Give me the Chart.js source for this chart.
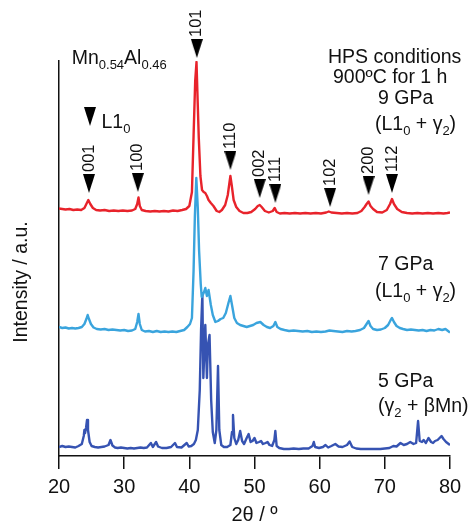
<!DOCTYPE html>
<html>
<head>
<meta charset="utf-8">
<script src="https://cdn.jsdelivr.net/npm/chart.js@4/dist/chart.umd.min.js"></script>
<style>
  html, body { margin: 0; padding: 0; background: #fff; }
  #c { display: block; }
</style>
</head>
<body>
<canvas id="c" width="468" height="523"></canvas>
<script>
// ---------------- DATA ----------------
// 2θ (deg) and intensity (a.u., stacked offsets as plotted)
const angles5GPa = [
  20,20.5,21,21.5,22,22.5,23,23.5,23.8,23.9,
  24.0,24.15,24.3,24.45,24.7,25,25.5,26,26.5,27,
  27.6,27.9,28.2,28.6,29,29.5,30,30.5,31,31.5,
  32,32.5,33,33.5,34.1,34.4,34.9,35.2,35.8,36.5,
  37.2,37.8,38.1,38.8,39.6,39.9,40.3,40.7,41.0,41.3,
  41.6,41.8,42.0,42.15,42.45,42.7,42.85,43.1,43.35,43.6,
  43.9,44.15,44.4,44.6,44.9,45.3,45.8,46.3,46.55,46.7,
  46.9,47.2,47.5,47.8,48.1,48.4,48.8,49.1,49.4,49.7,
  50.0,50.3,50.7,51.0,51.3,51.7,52.0,52.3,52.7,53.05,
  53.2,53.4,53.8,54.5,55.3,56,56.8,57.5,58.3,58.9,
  59.1,59.3,59.9,60.5,60.9,61.3,61.8,62.4,62.9,63.5,
  64.2,64.6,65.0,65.6,66.3,67,67.8,68.5,69.3,70,
  70.7,71.3,71.8,72.4,72.9,73.4,73.9,74.4,74.8,75.1,
  75.35,75.7,75.95,76.3,76.7,77.1,77.4,77.7,78.1,78.4,
  78.7,79.0,79.4,79.8,80
];
const intensity5GPa = [
  9,10,9,9.5,9,8.5,10,12,20,26,
  23,28,36,26,14,10,9,8.5,9,9.5,
  11,16,10.5,8.5,8,8.5,8,7.5,8,7.5,
  8,8.5,8,8.5,13,9,14,9.5,8,8,
  9,13,9,8.5,13,9.5,10,12,16,26,
  66,126,162,78,131,78,111,121,56,24,
  13,26,90,26,11,9,9,11,24,41,
  18,12,16,25,15,12,18,22,14,15,
  18,13,14,15,12,13,14,11,10,16,
  25,10,8,7,7,7.5,7,7.5,7.5,10,
  14,9,8,9,11,8.5,10,12,9.5,9,
  11,14.5,9,7.5,7,7,7,7,7,7.5,
  8,10,9.5,13,11,12,14,12,13,35,
  15,14,16,13,18,14,13,15,16,18,
  20,17,14,12,11
];

const angles7GPa = [
  20,20.5,21,21.5,22,22.5,23,23.5,23.9,24.2,
  24.4,24.6,24.9,25.3,25.8,26.4,27,27.6,28.2,28.8,
  29.4,30,30.6,31.2,31.7,32.0,32.2,32.4,32.7,33.2,
  33.8,34.4,35,35.6,36.2,36.8,37.4,38,38.6,39.2,
  39.7,40.1,40.4,40.65,40.85,41.07,41.3,41.5,41.75,41.9,
  42.2,42.45,42.7,42.95,43.3,43.6,44.0,44.4,44.8,45.2,
  45.6,46.0,46.3,46.55,46.9,47.3,47.8,48.3,48.8,49.3,
  49.8,50.3,50.9,51.4,51.9,52.4,52.9,53.2,53.5,54,
  54.6,55.3,56,56.7,57.4,58.1,58.8,59.5,60.2,60.9,
  61.5,62.1,62.8,63.5,64.2,64.9,65.5,66.2,66.8,67.2,
  67.5,67.8,68.2,68.8,69.4,70.0,70.5,70.9,71.1,71.4,
  71.8,72.3,72.8,73.4,74,74.6,75.2,75.8,76.4,77,
  77.6,78.2,78.8,79.3,79.6,80
];
const intensity7GPa = [
  129,128,128.5,127.5,128,127.5,128,129,132,137,
  141,137,132,128.5,127,126.5,127,126,126.5,126,
  125.5,126,125,125.5,127,134,142,132,126,124.5,
  125,124,125,124,124.5,124,124.5,124,125,126,
  129,132,138,185,240,278,248,205,172,159,
  163,168,160,166,151,141,134,135,137,138,
  143,153,160,151,138,133,131,130,129,130,
  131,133,134,131,129,128,130,134,129,127,
  126,125,125.5,125,124.5,125,124,124.5,124,124.5,
  125.5,125,124.5,124,125,124.5,125,126,128,132,
  135,130,127,126,126.5,128,131,136,138,134,
  130,128,127,126,126.5,126,125.5,126,125,126,
  125.5,127,126,127,125.5,123.5
];

const angles9GPa = [
  20,20.5,21,21.6,22.2,22.8,23.4,23.9,24.2,24.5,
  24.8,25.2,25.7,26.3,27,27.7,28.4,29.1,29.8,30.5,
  31.2,31.7,32.0,32.2,32.4,32.7,33.3,34,34.7,35.4,
  36.1,36.8,37.5,38.2,38.9,39.5,40.0,40.4,40.65,40.9,
  41.1,41.3,41.45,41.7,41.95,42.2,42.45,42.7,42.95,43.3,
  43.7,44.2,44.6,45.0,45.5,45.9,46.15,46.3,46.5,46.8,
  47.2,47.7,48.3,48.9,49.5,50.1,50.5,50.8,51.1,51.6,
  52.2,52.8,53.1,53.4,53.9,54.6,55.4,56.2,57,57.8,
  58.6,59.4,60.2,61,61.4,61.8,62.6,63.4,64.2,65,
  65.8,66.4,66.9,67.2,67.5,67.8,68.2,68.8,69.6,70.3,
  70.8,71.1,71.4,71.9,72.6,73.4,74.2,75,75.8,76.6,
  77.4,78.2,79,79.6,80
];
const intensity9GPa = [
  247.5,247,246.5,247,246,246.5,246,248,252,256,
  252,248,246,245.5,246,245,245.5,245,245.5,245,
  245.5,247,252,258.5,250,246,245,244.5,245,244.5,
  245,244.5,245.5,245,246,247,250,264,320,375,
  394,350,318,280,266,264,263,260,256,253,
  250,245,244,246,251,261,273,280,271,256,
  249,245,243,243,244,247,250,251,249,245,
  243.5,245,248,244,242.5,243,242.5,243,242.5,243,
  242.5,243,242.5,243.5,244.5,243.5,243,242.5,243,242.5,
  243,245,249,252,254.5,250,247,244,243.5,246,
  252,257,252,247,244,243,242.5,243,242.5,243,
  242.5,243,242.5,243,243.5
];

// L1_0 reflections marked on the 9 GPa pattern
const peakLabels = ['001','100','101','110','002','111','102','200','112'];
const peakAngles = [24.6, 32.1, 41.15, 46.3, 50.8, 53.2, 61.6, 67.5, 71.1];
const markerLevels = [272.5, 273.5, 407.5, 295.5, 267.5, 262.5, 258.5, 270.5, 272.5];

const xTicks = [20, 30, 40, 50, 60, 70, 80];

// ---------------- STYLE ----------------
const FAMILY = '"Liberation Sans", Arial, Helvetica, sans-serif';
const RED = '#e8232b';
const LIGHT = '#3aa4dd';
const DARK = '#3653b2';
const TRI_W = 12, TRI_H = 19;

function makeTriangle() {
  const c = document.createElement('canvas');
  c.width = TRI_W; c.height = TRI_H;
  const g = c.getContext('2d');
  g.fillStyle = '#000';
  g.beginPath();
  g.moveTo(0, 0); g.lineTo(TRI_W, 0); g.lineTo(TRI_W / 2, TRI_H);
  g.closePath(); g.fill();
  return c;
}
const TRI = makeTriangle();

const toPts = (xs, ys) => xs.map((x, i) => ({ x, y: ys[i] }));

function rich(ctx, x, y, parts, size, subSize, shift) {
  let cx = x;
  for (const [t, sub] of parts) {
    ctx.font = (sub ? subSize : size) + 'px ' + FAMILY;
    ctx.fillText(t, cx, sub ? y + shift : y);
    cx += ctx.measureText(t).width;
  }
}

const annotations = {
  id: 'annotations',
  afterDatasetsDraw(chart) {
    const ctx = chart.ctx;
    const xs = chart.scales.x, ys = chart.scales.y;
    ctx.save();
    ctx.fillStyle = '#111';
    // peak markers (triangles) and their index labels (rotated)
    ctx.font = '16.5px ' + FAMILY;
    peakAngles.forEach((a, i) => {
      const px = xs.getPixelForValue(a);
      const py = ys.getPixelForValue(markerLevels[i]);
      ctx.drawImage(TRI, px - TRI_W / 2, py - TRI_H / 2);
      ctx.save();
      ctx.translate(px, py - TRI_H / 2 - 2);
      ctx.rotate(-Math.PI / 2);
      ctx.textAlign = 'left';
      ctx.textBaseline = 'middle';
      ctx.fillText(peakLabels[i], 0, 0);
      ctx.restore();
    });
    ctx.textAlign = 'left';
    ctx.textBaseline = 'alphabetic';
    const S = 19.5, SS = 13, SH = 5;
    rich(ctx, 71.7, 64, [['Mn', 0], ['0.54', 1], ['Al', 0], ['0.46', 1]], S, SS, SH);
    rich(ctx, 328, 63, [['HPS conditions', 0]], S, SS, SH);
    rich(ctx, 333, 83, [['900ºC for 1 h', 0]], S, SS, SH);
    rich(ctx, 378, 104, [['9 GPa', 0]], S, SS, SH);
    rich(ctx, 375, 130, [['(L1', 0], ['0', 1], [' + γ', 0], ['2', 1], [')', 0]], S, SS, SH);
    rich(ctx, 378, 270, [['7 GPa', 0]], S, SS, SH);
    rich(ctx, 375, 296.5, [['(L1', 0], ['0', 1], [' + γ', 0], ['2', 1], [')', 0]], S, SS, SH);
    rich(ctx, 378, 386.5, [['5 GPa', 0]], S, SS, SH);
    rich(ctx, 378, 411.5, [['(γ', 0], ['2', 1], [' + βMn)', 0]], S, SS, SH);
    // legend: marker meaning
    ctx.drawImage(TRI, 90 - TRI_W / 2, 107);
    rich(ctx, 101.5, 128, [['L1', 0], ['0', 1]], S, SS, SH);
    // y-axis title
    ctx.save();
    ctx.translate(22, 282);
    ctx.rotate(-Math.PI / 2);
    ctx.textAlign = 'center';
    ctx.textBaseline = 'middle';
    ctx.font = S + 'px ' + FAMILY;
    ctx.fillText('Intensity / a.u.', 0, 0);
    ctx.restore();
    ctx.restore();
  }
};

Chart.defaults.font.family = FAMILY;
Chart.defaults.color = '#111';

const lineDs = (label, xs, ys, color, order) => ({
  label, data: toPts(xs, ys), showLine: true, borderColor: color, backgroundColor: color,
  borderWidth: 2.4, pointRadius: 0, tension: 0, order, borderJoinStyle: 'round'
});

new Chart(document.getElementById('c'), {
  type: 'scatter',
  data: {
    datasets: [
      lineDs('9 GPa', angles9GPa, intensity9GPa, RED, 2),
      lineDs('7 GPa', angles7GPa, intensity7GPa, LIGHT, 1),
      lineDs('5 GPa', angles5GPa, intensity5GPa, DARK, 3)
    ]
  },
  options: {
    responsive: false,
    animation: false,
    devicePixelRatio: 1,
    layout: { padding: { top: 61, right: 18, left: 0, bottom: 0 } },
    plugins: { legend: { display: false }, tooltip: { enabled: false } },
    scales: {
      x: {
        type: 'linear', min: 20, max: 80,
        afterBuildTicks: (s) => { s.ticks = xTicks.map(v => ({ value: v })); },
        afterFit: (s) => { s.height = 67; },
        border: { display: true, color: '#111', width: 1.5 },
        grid: { display: true, drawOnChartArea: false, drawTicks: true, tickLength: 13, color: '#111', lineWidth: 1.5 },
        ticks: { color: '#111', font: { size: 20 }, padding: 6, maxRotation: 0 },
        title: { display: true, text: '2θ / º', color: '#111', font: { size: 20, lineHeight: 0.8 }, padding: { top: 0, bottom: 0 } }
      },
      y: {
        type: 'linear', min: 0, max: 395,
        afterFit: (s) => { s.width = 59; },
        border: { display: true, color: '#111', width: 1.5 },
        grid: { display: false },
        ticks: { display: false }
      }
    }
  },
  plugins: [annotations]
});
</script>
</body>
</html>
